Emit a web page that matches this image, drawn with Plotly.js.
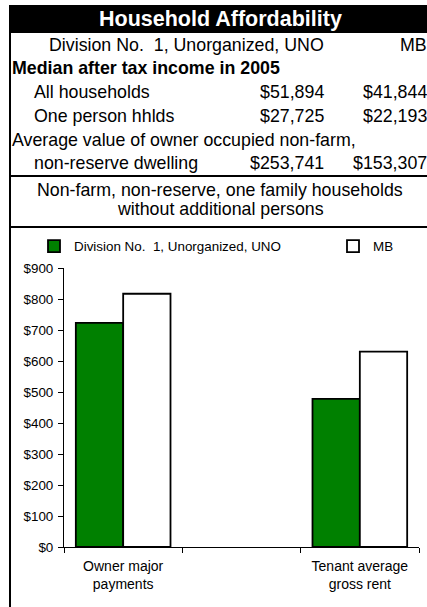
<!DOCTYPE html>
<html><head><meta charset="utf-8">
<script src="https://cdn.plot.ly/plotly-3.0.1.min.js"></script>
<style>html,body{margin:0;padding:0;background:#fff;overflow:hidden}#chart{width:427px;height:607px}</style>
</head><body><div id="chart"></div>
<script>
// ---- data ----
const categories = ['Owner major<br>payments', ' ', 'Tenant average<br>gross rent'];
const divisionValues = [723, null, 478];
const mbValues = [817, null, 630];
const seriesNames = ['Division No.\u00a0 1, Unorganized, UNO', 'MB'];
const tableTitle = 'Household Affordability';
const headerRegion = 'Division No.\u00a0 1, Unorganized, UNO';
const headerProvince = 'MB';
const incomeHeading = 'Median after tax income in 2005';
const incomeLabels = ['All households', 'One person hhlds'];
const incomeDivision = ['$51,894', '$27,725'];
const incomeMB = ['$41,844', '$22,193'];
const dwellingLabel1 = 'Average value of owner occupied non-farm,';
const dwellingLabel2 = 'non-reserve dwelling';
const dwellingDivision = '$253,741';
const dwellingMB = '$153,307';
const chartHeading = ['Non-farm, non-reserve, one family households', 'without additional persons'];

// ---- geometry helpers (pixels -> paper) ----
const W = 427, H = 607, L = 64, R = 8, T = 268, B = 60;
const pw = W - L - R, ph = H - T - B;
const px = x => (x - L) / pw;
const py = y => (H - B - y) / ph;
const FONT = 'Arial, "Liberation Sans", sans-serif';
const TF = 17.8;  // table font
const CF = 13.4;  // chart font

const ann = [];
function txt(text, x, y, anchor, opts) {
  ann.push(Object.assign({xref: 'paper', yref: 'paper', x: px(x), y: py(y), text: text,
    showarrow: false, xanchor: anchor, yanchor: 'middle',
    font: {family: FONT, size: TF, color: '#000'}}, opts || {}));
}
txt('<b>' + tableTitle + '</b>', 220, 19, 'center', {font: {family: FONT, size: 21.5, color: '#fff'}});
txt(headerRegion, 326, 45, 'right');
txt(headerProvince, 429, 45, 'right');
txt('<b>' + incomeHeading + '</b>', 10, 68, 'left');
const rowY = [92, 116];
incomeLabels.forEach((lab, i) => {
  txt(lab, 32, rowY[i], 'left');
  txt(incomeDivision[i], 326, rowY[i], 'right');
  txt(incomeMB[i], 429, rowY[i], 'right');
});
txt(dwellingLabel1, 10, 140, 'left');
txt(dwellingLabel2, 32, 163, 'left');
txt(dwellingDivision, 326, 163, 'right');
txt(dwellingMB, 429, 163, 'right');
txt(chartHeading[0], 220, 190, 'center');
txt(chartHeading[1], 220, 209, 'center');

const shapes = [
  {type: 'rect', xref: 'paper', yref: 'paper', x0: px(10), x1: px(440), y0: py(5), y1: py(33),
   fillcolor: '#000', line: {width: 0}},
  {type: 'line', xref: 'paper', yref: 'paper', x0: px(10), x1: px(10), y0: py(5), y1: py(610),
   line: {color: '#000', width: 2}},
  {type: 'line', xref: 'paper', yref: 'paper', x0: px(10), x1: px(440), y0: py(176), y1: py(176),
   line: {color: '#000', width: 2}},
  {type: 'line', xref: 'paper', yref: 'paper', x0: px(10), x1: px(440), y0: py(227), y1: py(227),
   line: {color: '#000', width: 2}}
];

const traces = [
  {type: 'bar', x: categories, y: divisionValues, name: seriesNames[0], legendwidth: 254,
   marker: {color: '#008000', line: {color: '#000', width: 1.8}}, hoverinfo: 'skip'},
  {type: 'bar', x: categories, y: mbValues, name: seriesNames[1], legendwidth: 30,
   marker: {color: '#ffffff', line: {color: '#000', width: 1.8}}, hoverinfo: 'skip'}
];

const layout = {
  width: W, height: H,
  margin: {l: L, r: R, t: T, b: B, pad: 0},
  paper_bgcolor: '#fff', plot_bgcolor: '#fff',
  font: {family: FONT, size: CF, color: '#000'},
  barmode: 'group', bargap: 0.2, bargroupgap: 0,
  showlegend: true,
  legend: {orientation: 'h', x: px(34), y: py(231), xanchor: 'left', yanchor: 'top',
    entrywidthmode: 'pixels', font: {family: FONT, size: CF, color: '#000'},
    bgcolor: 'rgba(0,0,0,0)', traceorder: 'normal'},
  xaxis: {type: 'category', range: [-0.5, 2.5], tickson: 'boundaries', ticks: 'outside',
    ticklen: 5, tickcolor: '#000', showline: true, linecolor: '#000', linewidth: 1,
    showgrid: false, zeroline: false, tickfont: {family: FONT, size: 14, color: '#000'},
    ticklabelstandoff: 6, fixedrange: true},
  yaxis: {range: [0, 900], dtick: 100, tick0: 0, tickprefix: '$', ticks: 'outside', ticklen: 5,
    tickcolor: '#000', showline: true, linecolor: '#000', linewidth: 1, showgrid: false,
    zeroline: false, tickfont: {family: FONT, size: CF, color: '#000'}, fixedrange: true,
    ticklabelstandoff: 2},
  shapes: shapes,
  annotations: ann
};
Plotly.newPlot('chart', traces, layout, {displayModeBar: false, staticPlot: true});
</script>
</body></html>
